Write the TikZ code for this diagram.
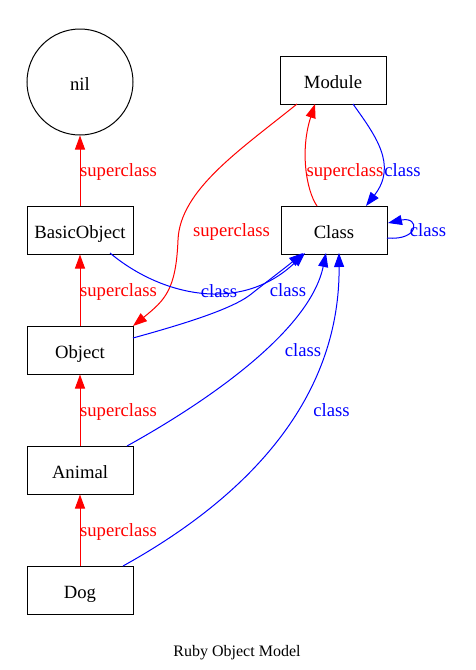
\documentclass[tikz,border=0pt]{standalone}
\usepackage{fontspec}
\setmainfont{Liberation Serif}
\usetikzlibrary{arrows.meta}
\definecolor{gvred}{RGB}{255,0,0}
\definecolor{gvblue}{RGB}{0,0,255}
\begin{document}
\begin{tikzpicture}[x=1pt,y=-1pt,
  every node/.style={font=\fontsize{18.67pt}{22pt}\selectfont},
  cls/.style={draw=black,line width=1pt,rectangle,minimum width=106pt,minimum height=48pt,inner sep=0pt,text height=16pt,text depth=0pt},
  nilnode/.style={draw=black,line width=1pt,circle,minimum size=106pt,inner sep=0pt,text height=16pt,text depth=0pt},
  sup/.style={draw=gvred,line width=1pt,-{Triangle[length=14pt,width=10pt]}},
  isa/.style={draw=gvblue,line width=1pt,-{Triangle[length=14pt,width=10pt]}},
  suplbl/.style={text=gvred,inner sep=0pt,anchor=base},
  isalbl/.style={text=gvblue,inner sep=0pt,anchor=base}]
\useasboundingbox (0,0) rectangle (475,670);
\node[nilnode] (nil) at (80,82) {nil};
\node[cls] (basic) at (80,230) {BasicObject};
\node[cls] (object) at (80,350) {Object};
\node[cls] (animal) at (80,470) {Animal};
\node[cls] (dog) at (80,590) {Dog};
\node[cls] (module) at (333,80) {Module};
\node[cls] (class) at (334,230) {Class};
\node[font=\fontsize{16pt}{19pt}\selectfont,inner sep=0pt,anchor=base] (title) at (237,656.5) {Ruby Object Model};
% superclass chain
\draw[sup] (basic) -- (nil);
\draw[sup] (object) -- (basic);
\draw[sup] (animal) -- (object);
\draw[sup] (dog) -- (animal);
\node[suplbl] (l1) at (118.5,176.5) {superclass};
\node[suplbl] (l2) at (118.5,296.5) {superclass};
\node[suplbl] (l3) at (118.5,416.5) {superclass};
\node[suplbl] (l4) at (118.5,536.5) {superclass};
% Class -> Module
\coordinate (cm0) at (317,206);
\coordinate (cm1) at (315,104);
\draw[sup] (cm0) .. controls (306,190) and (300,150) .. (cm1);
\node[suplbl] (l5) at (345,176.5) {superclass};
% Module -> Class
\coordinate (mc0) at (353,104);
\coordinate (mc1) at (366,206);
\draw[isa] (mc0) .. controls (375,135) and (398,165) .. (mc1);
\node[isalbl] (l6) at (402.5,176.5) {class};
% Class self loop
\coordinate (cl0) at (387,238);
\coordinate (cl1) at (388,223);
\draw[isa] (cl0) .. controls (420,241) and (420,216) .. (cl1);
\node[isalbl] (l7) at (428,236.5) {class};
% Module -> Object
\coordinate (mo0) at (297,104);
\coordinate (mo1) at (178,240);
\coordinate (mo2) at (133,326);
\draw[sup] (mo0) .. controls (240,150) and (180,190) .. (mo1) .. controls (176,290) and (165,300) .. (mo2);
\node[suplbl] (l8) at (231.5,236.5) {superclass};
% BasicObject -> Class
\coordinate (bc0) at (110,253);
\coordinate (bc1) at (305,253);
\draw[isa] (bc0) .. controls (160,295) and (240,315) .. (bc1);
\node[isalbl] (l9) at (219,297) {class};
% Object -> Class
\coordinate (oc0) at (133,338);
\coordinate (oc1) at (250,295);
\coordinate (oc2) at (303,253);
\draw[isa] (oc0) .. controls (180,325) and (230,310) .. (oc1) .. controls (265,283) and (285,268) .. (oc2);
\node[isalbl] (l10) at (288,296.5) {class};
% Animal -> Class
\coordinate (ac0) at (127,446);
\coordinate (ac1) at (326,253);
\draw[isa] (ac0) .. controls (210,400) and (310,330) .. (ac1);
\node[isalbl] (l11) at (303,356.5) {class};
% Dog -> Class
\coordinate (dc0) at (123,566);
\coordinate (dc1) at (339,253);
\draw[isa] (dc0) .. controls (260,490) and (340,390) .. (dc1);
\node[isalbl] (l12) at (331.5,416.5) {class};
\end{tikzpicture}
\end{document}
